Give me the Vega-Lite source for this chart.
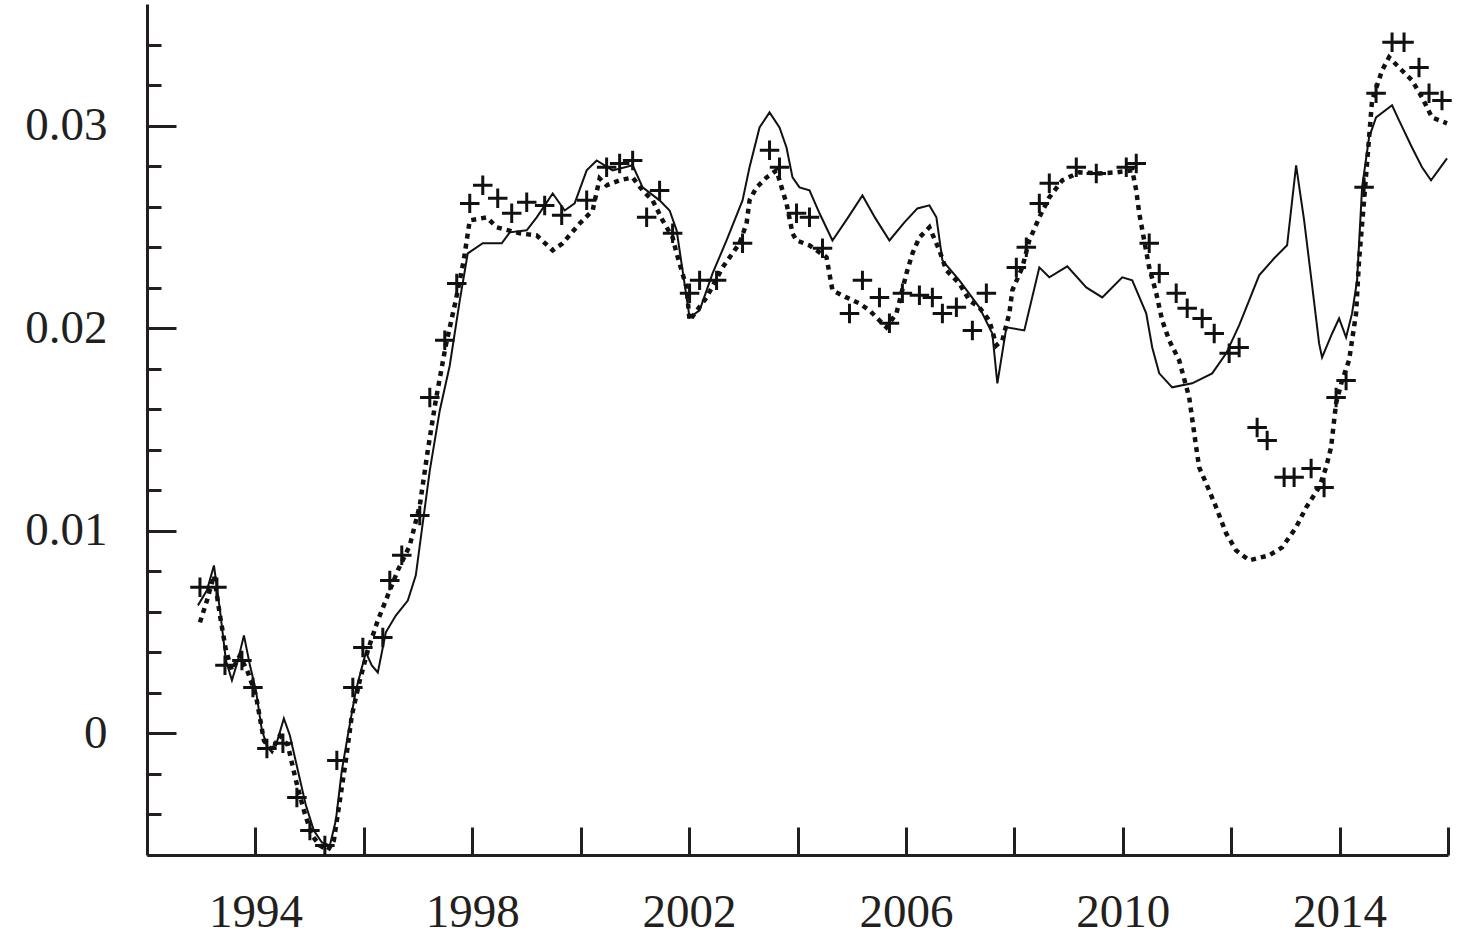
{
  "$schema": "https://vega.github.io/schema/vega-lite/v6.json",
  "width": 1301,
  "height": 851,
  "autosize": {"type": "none"},
  "padding": {"left": 147, "top": 4, "right": 28, "bottom": 90},
  "background": "white",
  "config": {
    "view": {"stroke": null},
    "axis": {
      "labelFont": "Liberation Serif",
      "labelFontSize": 47,
      "labelColor": "#231f20",
      "domainColor": "#231f20",
      "tickColor": "#231f20",
      "grid": false,
      "title": null
    }
  },
  "datasets": {
    "solid": [
      {"year": 1992.94, "value": 0.00632}, {"year": 1993.106, "value": 0.00706}, {"year": 1993.235, "value": 0.00829},
      {"year": 1993.346, "value": 0.00607}, {"year": 1993.456, "value": 0.0036}, {"year": 1993.567, "value": 0.00262},
      {"year": 1993.677, "value": 0.0036}, {"year": 1993.788, "value": 0.00484}, {"year": 1993.899, "value": 0.00336},
      {"year": 1994.009, "value": 0.00212}, {"year": 1994.12, "value": 0.00015}, {"year": 1994.23, "value": -0.00074},
      {"year": 1994.378, "value": -0.00059}, {"year": 1994.525, "value": 0.00074}, {"year": 1994.636, "value": -0.0001},
      {"year": 1994.783, "value": -0.00183}, {"year": 1994.931, "value": -0.00355}, {"year": 1995.078, "value": -0.00479},
      {"year": 1995.226, "value": -0.00538}, {"year": 1995.373, "value": -0.00553}, {"year": 1995.484, "value": -0.00429},
      {"year": 1995.594, "value": -0.00183}, {"year": 1995.705, "value": -0.0001}, {"year": 1995.853, "value": 0.00212},
      {"year": 1996.037, "value": 0.004}, {"year": 1996.147, "value": 0.00336}, {"year": 1996.258, "value": 0.00301},
      {"year": 1996.406, "value": 0.00499}, {"year": 1996.59, "value": 0.00582}, {"year": 1996.811, "value": 0.00656},
      {"year": 1996.959, "value": 0.0078}, {"year": 1997.069, "value": 0.01002}, {"year": 1997.217, "value": 0.01298},
      {"year": 1997.401, "value": 0.01594}, {"year": 1997.585, "value": 0.01816}, {"year": 1997.77, "value": 0.02137},
      {"year": 1997.917, "value": 0.02369}, {"year": 1998.194, "value": 0.02419}, {"year": 1998.544, "value": 0.02419},
      {"year": 1998.691, "value": 0.02473}, {"year": 1999.005, "value": 0.02483}, {"year": 1999.189, "value": 0.02547},
      {"year": 1999.484, "value": 0.02665}, {"year": 1999.705, "value": 0.02581}, {"year": 1999.889, "value": 0.02616},
      {"year": 2000.111, "value": 0.02779}, {"year": 2000.295, "value": 0.02828}, {"year": 2000.59, "value": 0.02779},
      {"year": 2000.959, "value": 0.02804}, {"year": 2001.143, "value": 0.02695}, {"year": 2001.456, "value": 0.02631},
      {"year": 2001.641, "value": 0.02581}, {"year": 2001.77, "value": 0.02483}, {"year": 2001.88, "value": 0.02285},
      {"year": 2002.009, "value": 0.02053}, {"year": 2002.194, "value": 0.02088}, {"year": 2002.433, "value": 0.0227},
      {"year": 2002.691, "value": 0.02433}, {"year": 2002.986, "value": 0.02631}, {"year": 2003.115, "value": 0.02794},
      {"year": 2003.3, "value": 0.02991}, {"year": 2003.484, "value": 0.03065}, {"year": 2003.668, "value": 0.02991},
      {"year": 2003.797, "value": 0.02892}, {"year": 2003.908, "value": 0.02744}, {"year": 2004.037, "value": 0.02695},
      {"year": 2004.221, "value": 0.0268}, {"year": 2004.406, "value": 0.02567}, {"year": 2004.645, "value": 0.02433},
      {"year": 2004.922, "value": 0.02542}, {"year": 2005.198, "value": 0.02655}, {"year": 2005.438, "value": 0.02542},
      {"year": 2005.696, "value": 0.02433}, {"year": 2005.972, "value": 0.02522}, {"year": 2006.212, "value": 0.02591},
      {"year": 2006.433, "value": 0.02606}, {"year": 2006.562, "value": 0.02547}, {"year": 2006.673, "value": 0.02335},
      {"year": 2006.986, "value": 0.02236}, {"year": 2007.355, "value": 0.02103}, {"year": 2007.594, "value": 0.01974},
      {"year": 2007.687, "value": 0.01728}, {"year": 2007.853, "value": 0.02004}, {"year": 2008.184, "value": 0.01989},
      {"year": 2008.461, "value": 0.023}, {"year": 2008.645, "value": 0.02251}, {"year": 2008.977, "value": 0.02305},
      {"year": 2009.327, "value": 0.02201}, {"year": 2009.622, "value": 0.02152}, {"year": 2009.991, "value": 0.02251},
      {"year": 2010.175, "value": 0.02236}, {"year": 2010.433, "value": 0.02073}, {"year": 2010.544, "value": 0.01905},
      {"year": 2010.673, "value": 0.01777}, {"year": 2010.912, "value": 0.01708}, {"year": 2011.281, "value": 0.01728},
      {"year": 2011.65, "value": 0.01777}, {"year": 2011.908, "value": 0.01876}, {"year": 2012.147, "value": 0.02014},
      {"year": 2012.332, "value": 0.02137}, {"year": 2012.516, "value": 0.02261}, {"year": 2012.793, "value": 0.02345},
      {"year": 2013.032, "value": 0.02409}, {"year": 2013.198, "value": 0.02804}, {"year": 2013.346, "value": 0.02532},
      {"year": 2013.493, "value": 0.02211}, {"year": 2013.622, "value": 0.01925}, {"year": 2013.677, "value": 0.01856},
      {"year": 2013.862, "value": 0.01974}, {"year": 2013.991, "value": 0.02048}, {"year": 2014.12, "value": 0.01955},
      {"year": 2014.23, "value": 0.02073}, {"year": 2014.323, "value": 0.02236}, {"year": 2014.415, "value": 0.02695},
      {"year": 2014.544, "value": 0.02942}, {"year": 2014.673, "value": 0.0304}, {"year": 2014.968, "value": 0.031},
      {"year": 2015.097, "value": 0.03026}, {"year": 2015.336, "value": 0.02892}, {"year": 2015.521, "value": 0.02794},
      {"year": 2015.687, "value": 0.0273}, {"year": 2015.982, "value": 0.02838}
    ],
    "dotted": [
      {"year": 1992.977, "value": 0.00548}, {"year": 1993.106, "value": 0.00656}, {"year": 1993.235, "value": 0.0078},
      {"year": 1993.346, "value": 0.00582}, {"year": 1993.456, "value": 0.0041}, {"year": 1993.567, "value": 0.00311},
      {"year": 1993.714, "value": 0.00385}, {"year": 1993.862, "value": 0.00301}, {"year": 1994.009, "value": 0.00188},
      {"year": 1994.157, "value": -0.00035}, {"year": 1994.304, "value": -0.00084}, {"year": 1994.452, "value": -0.0001},
      {"year": 1994.599, "value": -0.00059}, {"year": 1994.747, "value": -0.00232}, {"year": 1994.894, "value": -0.0038},
      {"year": 1995.041, "value": -0.00503}, {"year": 1995.189, "value": -0.00553}, {"year": 1995.336, "value": -0.00577},
      {"year": 1995.447, "value": -0.00528}, {"year": 1995.558, "value": -0.00331}, {"year": 1995.668, "value": -0.00133},
      {"year": 1995.779, "value": 0.00089}, {"year": 1995.926, "value": 0.00262}, {"year": 1996.074, "value": 0.0041},
      {"year": 1996.258, "value": 0.00558}, {"year": 1996.442, "value": 0.00681}, {"year": 1996.627, "value": 0.00805},
      {"year": 1996.848, "value": 0.00928}, {"year": 1997.032, "value": 0.01125}, {"year": 1997.18, "value": 0.01397},
      {"year": 1997.327, "value": 0.01644}, {"year": 1997.512, "value": 0.01915}, {"year": 1997.696, "value": 0.02137},
      {"year": 1997.843, "value": 0.02335}, {"year": 1997.954, "value": 0.02532}, {"year": 1998.267, "value": 0.02547},
      {"year": 1998.452, "value": 0.02498}, {"year": 1998.876, "value": 0.02468}, {"year": 1999.189, "value": 0.02458},
      {"year": 1999.484, "value": 0.02384}, {"year": 1999.668, "value": 0.02419}, {"year": 1999.982, "value": 0.02517},
      {"year": 2000.221, "value": 0.02581}, {"year": 2000.35, "value": 0.02739}, {"year": 2000.479, "value": 0.02705},
      {"year": 2000.719, "value": 0.0273}, {"year": 2000.959, "value": 0.02744}, {"year": 2001.143, "value": 0.0268},
      {"year": 2001.327, "value": 0.02631}, {"year": 2001.512, "value": 0.02532}, {"year": 2001.696, "value": 0.02448},
      {"year": 2001.77, "value": 0.02369}, {"year": 2001.954, "value": 0.02201}, {"year": 2002.009, "value": 0.02038},
      {"year": 2002.323, "value": 0.02152}, {"year": 2002.618, "value": 0.023}, {"year": 2002.931, "value": 0.02419},
      {"year": 2003.06, "value": 0.02517}, {"year": 2003.115, "value": 0.02631}, {"year": 2003.244, "value": 0.02695},
      {"year": 2003.429, "value": 0.02744}, {"year": 2003.613, "value": 0.02779}, {"year": 2003.723, "value": 0.0268},
      {"year": 2003.797, "value": 0.02616}, {"year": 2003.908, "value": 0.02468}, {"year": 2003.982, "value": 0.02433},
      {"year": 2004.221, "value": 0.02409}, {"year": 2004.535, "value": 0.0235}, {"year": 2004.645, "value": 0.02187},
      {"year": 2004.903, "value": 0.02152}, {"year": 2005.143, "value": 0.02122}, {"year": 2005.327, "value": 0.02088},
      {"year": 2005.641, "value": 0.02004}, {"year": 2005.825, "value": 0.02073}, {"year": 2006.009, "value": 0.0227},
      {"year": 2006.12, "value": 0.02369}, {"year": 2006.249, "value": 0.02448}, {"year": 2006.433, "value": 0.02498},
      {"year": 2006.618, "value": 0.02384}, {"year": 2006.747, "value": 0.02285}, {"year": 2006.986, "value": 0.02221},
      {"year": 2007.171, "value": 0.02137}, {"year": 2007.355, "value": 0.02103}, {"year": 2007.539, "value": 0.02038},
      {"year": 2007.668, "value": 0.01915}, {"year": 2007.779, "value": 0.0194}, {"year": 2007.908, "value": 0.02073},
      {"year": 2007.963, "value": 0.02187}, {"year": 2008.147, "value": 0.023}, {"year": 2008.276, "value": 0.02433},
      {"year": 2008.461, "value": 0.02547}, {"year": 2008.645, "value": 0.02646}, {"year": 2008.885, "value": 0.0273},
      {"year": 2009.198, "value": 0.02769}, {"year": 2009.567, "value": 0.02764}, {"year": 2009.88, "value": 0.02769},
      {"year": 2010.175, "value": 0.02779}, {"year": 2010.249, "value": 0.0268}, {"year": 2010.304, "value": 0.02567},
      {"year": 2010.396, "value": 0.02433}, {"year": 2010.488, "value": 0.023}, {"year": 2010.618, "value": 0.02172},
      {"year": 2010.728, "value": 0.02038}, {"year": 2010.857, "value": 0.0194}, {"year": 2011.041, "value": 0.01841},
      {"year": 2011.226, "value": 0.01658}, {"year": 2011.355, "value": 0.01412}, {"year": 2011.41, "value": 0.01313},
      {"year": 2011.539, "value": 0.01234}, {"year": 2011.724, "value": 0.01115}, {"year": 2011.908, "value": 0.00987},
      {"year": 2012.092, "value": 0.00903}, {"year": 2012.332, "value": 0.00854}, {"year": 2012.7, "value": 0.00879},
      {"year": 2012.94, "value": 0.00918}, {"year": 2013.198, "value": 0.01017}, {"year": 2013.382, "value": 0.01115},
      {"year": 2013.622, "value": 0.01214}, {"year": 2013.751, "value": 0.01313}, {"year": 2013.843, "value": 0.01412},
      {"year": 2013.935, "value": 0.01629}, {"year": 2014.046, "value": 0.01742}, {"year": 2014.175, "value": 0.01841},
      {"year": 2014.304, "value": 0.02073}, {"year": 2014.359, "value": 0.02335}, {"year": 2014.452, "value": 0.02631},
      {"year": 2014.599, "value": 0.03124}, {"year": 2014.783, "value": 0.03272}, {"year": 2014.912, "value": 0.03337},
      {"year": 2015.152, "value": 0.03272}, {"year": 2015.336, "value": 0.03223}, {"year": 2015.521, "value": 0.03139},
      {"year": 2015.705, "value": 0.0304}, {"year": 2015.982, "value": 0.03011}
    ],
    "plus": [
      {"year": 1992.977, "value": 0.00721}, {"year": 1993.29, "value": 0.00721}, {"year": 1993.438, "value": 0.00336},
      {"year": 1993.751, "value": 0.0036}, {"year": 1993.954, "value": 0.00227}, {"year": 1994.212, "value": -0.00074},
      {"year": 1994.507, "value": -0.00049}, {"year": 1994.765, "value": -0.00316}, {"year": 1995.005, "value": -0.00479},
      {"year": 1995.281, "value": -0.00553}, {"year": 1995.502, "value": -0.00133}, {"year": 1995.797, "value": 0.00227},
      {"year": 1995.982, "value": 0.00424}, {"year": 1996.35, "value": 0.00474}, {"year": 1996.479, "value": 0.00755},
      {"year": 1996.7, "value": 0.00879}, {"year": 1997.032, "value": 0.01076}, {"year": 1997.217, "value": 0.01658},
      {"year": 1997.493, "value": 0.0194}, {"year": 1997.714, "value": 0.02221}, {"year": 1997.954, "value": 0.02616},
      {"year": 1998.194, "value": 0.02705}, {"year": 1998.47, "value": 0.02641}, {"year": 1998.728, "value": 0.02567},
      {"year": 1999.005, "value": 0.02621}, {"year": 1999.336, "value": 0.02606}, {"year": 1999.65, "value": 0.02557},
      {"year": 2000.111, "value": 0.02631}, {"year": 2000.479, "value": 0.02794}, {"year": 2000.719, "value": 0.02813},
      {"year": 2000.959, "value": 0.02828}, {"year": 2001.217, "value": 0.02547}, {"year": 2001.456, "value": 0.0268},
      {"year": 2001.696, "value": 0.02468}, {"year": 2002.009, "value": 0.02172}, {"year": 2002.194, "value": 0.02236},
      {"year": 2002.507, "value": 0.02236}, {"year": 2002.986, "value": 0.02419}, {"year": 2003.484, "value": 0.02878},
      {"year": 2003.668, "value": 0.02794}, {"year": 2003.982, "value": 0.02567}, {"year": 2004.221, "value": 0.02547},
      {"year": 2004.461, "value": 0.02394}, {"year": 2004.959, "value": 0.02073}, {"year": 2005.198, "value": 0.02236},
      {"year": 2005.512, "value": 0.02152}, {"year": 2005.696, "value": 0.02024}, {"year": 2005.935, "value": 0.02172},
      {"year": 2006.249, "value": 0.02162}, {"year": 2006.488, "value": 0.02152}, {"year": 2006.673, "value": 0.02073},
      {"year": 2006.931, "value": 0.02103}, {"year": 2007.226, "value": 0.01989}, {"year": 2007.484, "value": 0.02172},
      {"year": 2008.037, "value": 0.023}, {"year": 2008.221, "value": 0.02399}, {"year": 2008.461, "value": 0.02616},
      {"year": 2008.645, "value": 0.02715}, {"year": 2009.143, "value": 0.02794}, {"year": 2009.512, "value": 0.02764},
      {"year": 2010.065, "value": 0.02794}, {"year": 2010.249, "value": 0.02813}, {"year": 2010.488, "value": 0.02419},
      {"year": 2010.673, "value": 0.0227}, {"year": 2010.986, "value": 0.02172}, {"year": 2011.189, "value": 0.02098},
      {"year": 2011.465, "value": 0.02048}, {"year": 2011.687, "value": 0.01974}, {"year": 2011.963, "value": 0.01876},
      {"year": 2012.147, "value": 0.01905}, {"year": 2012.479, "value": 0.0151}, {"year": 2012.664, "value": 0.01446},
      {"year": 2012.977, "value": 0.01264}, {"year": 2013.161, "value": 0.01264}, {"year": 2013.475, "value": 0.01308},
      {"year": 2013.714, "value": 0.01214}, {"year": 2013.935, "value": 0.01658}, {"year": 2014.12, "value": 0.01742},
      {"year": 2014.452, "value": 0.02695}, {"year": 2014.673, "value": 0.03159}, {"year": 2014.968, "value": 0.03411},
      {"year": 2015.189, "value": 0.03411}, {"year": 2015.465, "value": 0.03287}, {"year": 2015.65, "value": 0.03159},
      {"year": 2015.889, "value": 0.03124}
    ]
  },
  "resolve": {"axis": {"y": "independent"}},
  "layer": [
    {
      "mark": {"type": "rule", "color": "#8a8a8a", "strokeWidth": 2.5},
      "encoding": {
        "y": {"datum": 0, "type": "quantitative", "scale": {"domain": [-0.006, 0.036], "nice": false, "zero": false},
          "axis": {"orient": "left", "values": [-0.006, -0.004, -0.002, 0, 0.002, 0.004, 0.006, 0.008, 0.01, 0.012, 0.014, 0.016, 0.018, 0.02, 0.022, 0.024, 0.026, 0.028, 0.03, 0.032, 0.034], "labels": false, "domain": false, "tickSize": -14, "tickWidth": 3}}
      }
    },
    {
      "data": {"name": "solid"},
      "mark": {"type": "line", "color": "#111111", "strokeWidth": 2},
      "encoding": {
        "x": {"field": "year", "type": "quantitative", "scale": {"domain": [1992, 2016], "nice": false, "zero": false},
          "axis": {"values": [1994, 1996, 1998, 2000, 2002, 2004, 2006, 2008, 2010, 2012, 2014, 2016], "format": "d",
            "labelExpr": "datum.value % 4 == 2 ? datum.label : ''", "tickSize": -28, "tickWidth": 3, "domainWidth": 3, "labelPadding": 62, "labelBaseline": "top", "labelFlush": false}},
        "y": {"field": "value", "type": "quantitative",
          "axis": {"orient": "left", "values": [0, 0.01, 0.02, 0.03], "labelExpr": "datum.value == 0 ? '0' : format(datum.value, '.2f')", "tickSize": -29, "tickWidth": 3, "domainWidth": 3, "labelPadding": 69}}
      }
    },
    {
      "data": {"name": "dotted"},
      "mark": {"type": "line", "color": "#111111", "strokeWidth": 4.5, "strokeDash": [5, 5]},
      "encoding": {
        "x": {"field": "year", "type": "quantitative"},
        "y": {"field": "value", "type": "quantitative", "axis": null}
      }
    },
    {
      "data": {"name": "plus"},
      "mark": {"type": "point", "shape": "M-1,0H1M0,-1V1", "filled": false, "color": "#111111", "strokeWidth": 3, "size": 380, "opacity": 1},
      "encoding": {
        "x": {"field": "year", "type": "quantitative"},
        "y": {"field": "value", "type": "quantitative", "axis": null}
      }
    }
  ]
}
